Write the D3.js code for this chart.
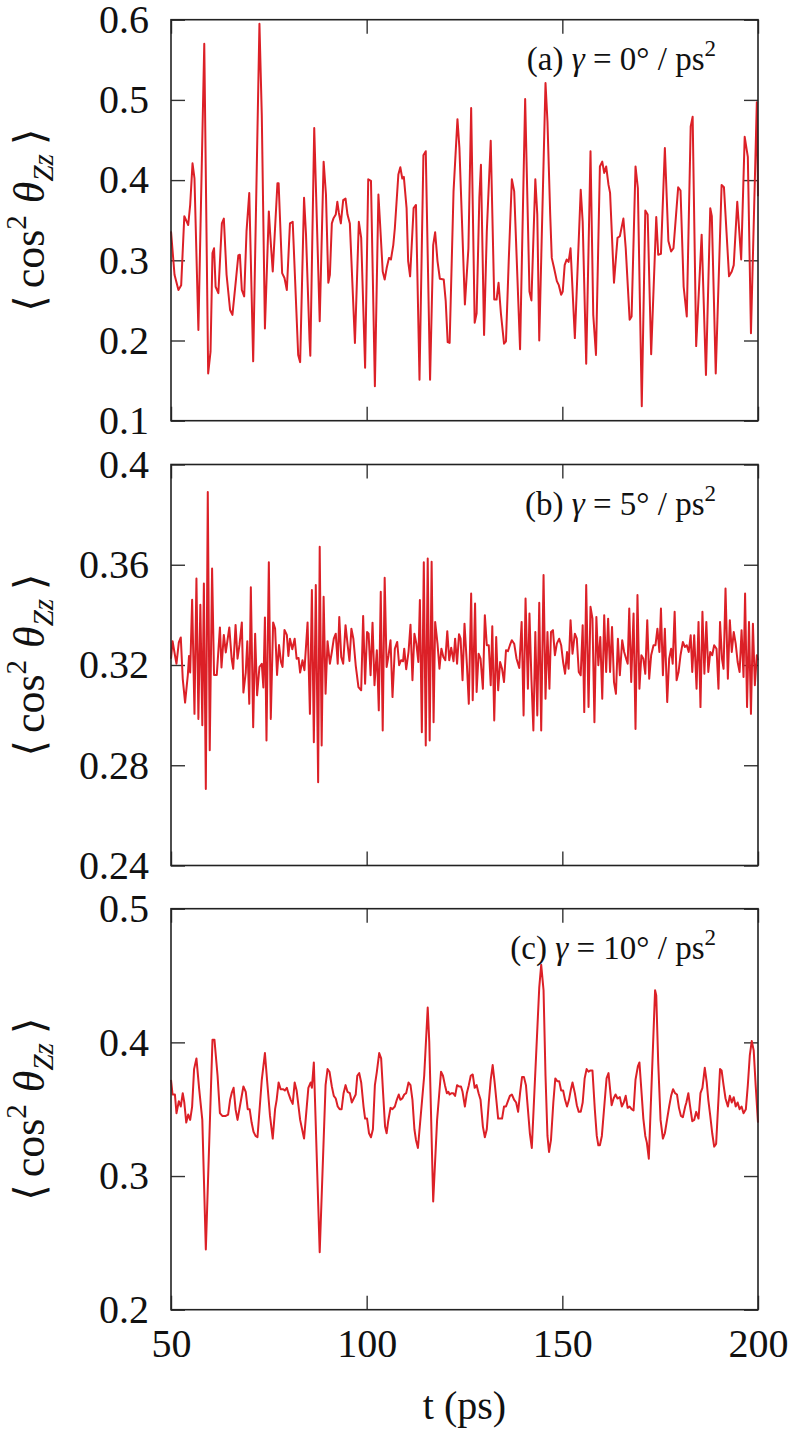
<!DOCTYPE html>
<html>
<head>
<meta charset="utf-8">
<script src="https://cdn.jsdelivr.net/npm/d3@7"></script>
<style>
  body { margin: 0; background: #fff; }
  svg { display: block; }
  text { font-family: "Liberation Serif", "Times New Roman", serif; fill: #111; }
</style>
</head>
<body>
<svg id="canvas"></svg>
<script>
// Data
let timeA = [50.0,50.9,51.9,52.6,53.4,54.4,54.9,55.5,56.0,57.0,58.5,59.5,60.1,60.6,61.0,61.4,62.1,63.0,63.5,64.2,65.1,65.7,66.6,67.2,67.6,68.1,68.7,69.3,70.0,71.0,72.6,73.2,74.0,75.0,75.3,76.0,77.2,77.5,78.4,79.0,79.6,80.4,81.1,82.5,83.0,84.0,84.5,85.4,85.6,86.6,88.0,89.0,89.6,90.2,90.6,91.1,91.5,92.1,92.5,92.9,93.4,94.0,94.6,95.1,95.7,97.0,98.0,98.6,99.6,100.4,101.1,102.1,103.0,103.4,104.1,104.6,105.1,105.7,106.2,106.8,107.2,108.1,108.6,109.1,109.5,110.2,110.6,111.1,112.0,112.6,113.5,114.5,115.1,116.2,117.0,117.5,118.1,118.7,119.7,120.2,120.7,121.2,122.2,123.2,123.7,125.1,126.0,126.7,127.6,128.1,128.8,129.2,130.0,130.7,131.7,132.6,133.2,133.7,134.3,135.1,135.6,136.3,137.1,137.7,139.2,140.5,141.6,142.1,143.1,143.6,144.1,145.7,146.2,146.9,147.3,147.9,148.6,149.1,149.7,150.1,150.6,151.1,151.6,152.1,153.2,154.7,155.2,156.1,157.2,157.9,158.6,159.6,160.2,160.7,161.2,161.8,162.2,163.2,164.1,164.7,165.6,166.2,167.2,167.7,168.7,169.3,170.3,171.2,171.8,172.7,174.0,174.5,175.2,176.2,177.1,177.8,178.4,179.6,180.2,181.0,181.8,182.8,183.3,184.2,185.6,186.7,187.8,188.2,189.2,190.7,191.3,192.6,193.3,193.8,194.7,195.7,196.6,197.4,198.2,199.7,200.0];
let cosA = [.336,.282,.263,.269,.355,.344,.369,.421,.402,.213,.570,.159,.186,.309,.315,.267,.259,.346,.352,.282,.238,.232,.276,.306,.307,.263,.255,.336,.384,.174,.595,.481,.215,.361,.336,.286,.396,.396,.284,.278,.263,.346,.348,.182,.173,.378,.332,.201,.181,.465,.224,.423,.382,.272,.282,.346,.352,.357,.373,.359,.346,.375,.377,.357,.346,.197,.348,.328,.166,.401,.399,.143,.382,.348,.286,.276,.290,.303,.301,.319,.340,.407,.416,.402,.404,.365,.299,.280,.365,.369,.151,.431,.436,.151,.319,.335,.299,.277,.276,.249,.198,.197,.386,.476,.440,.245,.315,.490,.222,.234,.379,.419,.207,.336,.449,.251,.251,.272,.234,.196,.199,.299,.401,.386,.189,.501,.261,.250,.401,.357,.200,.521,.473,.357,.303,.290,.274,.269,.257,.261,.294,.301,.298,.315,.203,.388,.348,.171,.436,.232,.182,.417,.423,.409,.417,.394,.384,.272,.328,.330,.352,.315,.226,.230,.417,.390,.118,.362,.357,.183,.354,.307,.308,.440,.324,.311,.315,.391,.387,.267,.230,.467,.479,.193,.332,.157,.365,.355,.159,.394,.391,.280,.286,.294,.373,.301,.454,.429,.209,.497,.380];

let timeB = [50.0,50.4,51.0,51.4,52.0,52.5,53.0,53.6,54.3,54.6,54.9,55.4,56.0,56.5,57.0,57.5,58.0,58.4,58.9,59.4,59.9,60.5,61.0,61.7,62.5,62.9,63.5,64.0,64.9,65.5,65.9,66.5,67.0,67.5,68.1,68.5,69.1,69.5,70.0,70.4,71.0,71.5,72.0,72.6,73.2,73.6,74.0,74.4,75.0,75.5,76.1,76.6,77.1,77.6,78.1,78.5,79.0,79.6,80.0,80.4,81.0,81.6,82.1,82.6,83.0,83.6,84.1,84.9,85.5,86.0,86.5,87.0,87.6,88.0,88.5,89.0,89.5,90.0,90.6,91.1,91.6,92.1,92.6,93.0,93.5,94.0,94.6,95.1,95.6,96.1,96.6,97.2,97.9,98.6,99.1,99.6,100.1,100.5,101.0,101.5,102.0,102.6,103.1,103.6,104.1,104.6,105.1,105.6,106.1,106.6,107.2,107.8,108.3,108.8,109.3,109.6,110.1,110.7,111.2,111.7,112.2,112.7,113.2,113.6,114.1,114.6,115.1,115.6,116.1,116.6,117.1,117.5,118.1,118.6,119.1,119.6,120.1,120.6,121.1,121.6,122.2,122.6,123.1,123.6,124.0,124.5,125.0,125.6,126.1,126.7,127.1,127.7,128.1,128.6,129.1,129.7,130.2,130.7,131.2,131.7,132.1,132.6,133.1,133.6,134.1,134.6,135.1,135.6,136.1,136.6,137.1,137.7,138.3,139.0,139.6,140.1,140.6,141.2,141.6,142.1,142.6,143.1,143.6,144.1,144.6,145.2,145.7,146.2,146.7,147.1,147.6,148.1,148.6,149.2,149.7,150.2,150.7,151.2,151.6,152.1,152.6,153.2,153.7,154.2,154.7,155.2,155.6,156.1,156.7,157.2,157.7,158.2,158.7,159.2,159.7,160.2,160.7,161.2,161.7,162.2,162.7,163.2,163.7,164.2,164.7,165.3,165.8,166.3,166.7,167.1,167.6,168.2,168.7,169.2,169.7,170.2,170.7,171.2,171.7,172.2,172.7,173.3,173.8,174.3,174.8,175.2,175.7,176.2,176.8,177.3,177.8,178.2,178.7,179.2,179.7,180.2,180.8,181.3,181.8,182.3,182.8,183.2,183.7,184.3,184.8,185.3,185.8,186.3,186.8,187.3,187.8,188.3,188.8,189.4,189.9,190.3,190.8,191.2,191.7,192.3,192.8,193.3,193.8,194.3,194.8,195.3,195.8,196.3,196.7,197.2,197.7,198.2,198.7,199.2,199.7,200.0];
let cosB = [.3225,.3295,.324,.3205,.329,.331,.3145,.305,.316,.3236,.317,.346,.3005,.3545,.2985,.344,.296,.3525,.2705,.389,.286,.3585,.316,.316,.335,.319,.332,.325,.335,.3225,.3185,.336,.3225,.328,.337,.309,.317,.3295,.3045,.351,.2952,.3325,.3079,.3192,.3205,.311,.339,.2899,.361,.2985,.337,.3345,.316,.328,.3212,.3192,.334,.332,.3236,.3305,.3263,.3305,.3225,.3228,.317,.3219,.3179,.337,.3005,.3499,.2892,.3519,.2732,.3672,.2879,.3472,.3085,.3295,.3205,.3252,.3305,.3325,.3205,.3392,.3232,.3205,.3359,.3285,.3216,.3345,.3305,.3199,.3112,.3099,.3396,.3125,.3332,.3325,.3159,.3369,.3119,.3259,.3019,.3492,.2939,.3548,.3192,.3239,.3299,.3072,.3265,.3292,.3199,.3219,.3215,.3265,.3183,.3252,.3361,.3139,.3325,.3285,.3212,.3459,.2932,.361,.2879,.3625,.2899,.3612,.2972,.3372,.3285,.3185,.3265,.3232,.3219,.3335,.3219,.3269,.3215,.3305,.3205,.3323,.3305,.3139,.3365,.3205,.3045,.3485,.3059,.3445,.3092,.3245,.3225,.3105,.3399,.3279,.3279,.3119,.3355,.2979,.3312,.3099,.3212,.3185,.3132,.3259,.3255,.3279,.3299,.3285,.3225,.3188,.3372,.2999,.3465,.3105,.3405,.3145,.2939,.3332,.2999,.3448,.2939,.3559,.3065,.3332,.3105,.3332,.3339,.3239,.3285,.3305,.3279,.3212,.3165,.3252,.3185,.3379,.3245,.3325,.3305,.3172,.3159,.3359,.3012,.3519,.3032,.3432,.3385,.2972,.3392,.3199,.3312,.3065,.3399,.3172,.3385,.3172,.3352,.3132,.3085,.3305,.3159,.3299,.3252,.3225,.3205,.3425,.3132,.3405,.2945,.3479,.3105,.3239,.3225,.3165,.3379,.3145,.3239,.3279,.3279,.3345,.3252,.3425,.3159,.3345,.3052,.3225,.3265,.3205,.3412,.3139,.3172,.3239,.3292,.3272,.3279,.3252,.3319,.3172,.3319,.3105,.3372,.3032,.3412,.3165,.3372,.3172,.3252,.3239,.3279,.3265,.3105,.3372,.3225,.3185,.3505,.3145,.3379,.3252,.3332,.3285,.3212,.3172,.3339,.3152,.3485,.3032,.3372,.3005,.3365,.3119,.3239,.3219];

let timeC = [50.0,50.4,51.0,51.4,52.0,52.5,53.0,53.4,53.9,54.4,54.9,55.4,55.9,56.5,57.2,58.0,58.9,60.6,61.1,61.9,62.5,63.1,64.0,64.6,65.1,65.5,66.0,66.5,67.0,67.6,68.5,69.1,69.6,70.1,70.6,71.1,71.6,72.1,73.2,74.0,74.6,75.3,76.0,76.6,77.0,77.5,78.0,78.7,79.1,79.6,80.0,80.6,81.1,81.6,82.1,83.0,84.0,85.1,85.7,86.0,86.5,88.0,89.5,90.0,90.5,91.1,91.6,92.1,92.6,93.1,93.6,94.1,94.6,95.1,95.7,96.2,96.7,97.2,97.6,98.1,98.6,99.2,99.6,100.1,100.6,101.1,101.6,102.1,102.6,103.2,103.7,104.2,104.7,105.1,105.5,106.1,106.6,107.2,107.7,108.2,108.6,109.1,109.6,110.1,110.7,111.2,111.7,112.2,112.6,113.1,114.7,115.6,116.0,117.0,118.0,119.0,119.5,120.0,120.5,120.9,121.2,121.7,122.1,122.6,123.1,123.6,124.1,124.5,125.1,125.6,126.1,126.6,127.1,127.6,128.1,128.6,129.1,129.7,130.2,130.7,131.2,131.7,132.2,132.7,133.2,133.6,134.1,134.6,135.1,135.6,136.1,136.6,137.1,137.7,138.2,138.7,139.2,139.7,140.2,140.7,141.2,141.7,142.2,144.1,144.6,145.2,145.7,146.2,146.6,147.1,147.7,148.2,148.7,149.2,149.7,150.2,150.7,151.2,151.7,152.2,152.6,153.2,153.7,154.2,154.7,155.2,155.7,156.2,156.7,157.2,157.7,158.3,158.8,159.2,159.6,160.1,161.3,161.8,162.2,162.6,163.1,163.6,164.1,164.7,165.2,165.7,166.2,166.7,167.2,167.7,168.2,168.7,169.3,169.7,170.3,170.7,171.2,171.6,172.1,173.7,174.0,174.5,175.1,175.7,176.2,176.8,177.3,177.8,178.3,178.8,179.3,179.8,180.3,180.8,181.4,181.7,182.2,182.6,183.2,183.7,184.2,184.8,185.3,185.8,186.4,186.9,187.3,187.8,188.3,188.8,189.3,190.3,190.7,191.2,191.7,192.3,192.8,193.3,193.8,194.3,194.8,195.3,195.8,196.3,196.9,197.4,197.9,198.4,198.9,199.4,200.0];
let cosC = [.372,.361,.361,.347,.356,.352,.362,.355,.340,.346,.342,.352,.380,.388,.365,.342,.245,.402,.402,.375,.347,.345,.345,.346,.357,.362,.366,.350,.342,.352,.367,.363,.350,.350,.340,.333,.330,.329,.372,.392,.370,.345,.328,.350,.357,.370,.365,.365,.364,.366,.362,.357,.354,.370,.364,.342,.328,.366,.370,.366,.385,.243,.368,.380,.378,.367,.360,.358,.352,.350,.350,.362,.368,.363,.362,.355,.358,.361,.375,.377,.370,.352,.343,.343,.332,.329,.335,.368,.378,.392,.388,.362,.337,.332,.341,.351,.350,.352,.357,.361,.357,.358,.361,.362,.370,.368,.357,.335,.327,.321,.375,.426,.400,.281,.342,.378,.375,.368,.362,.363,.361,.362,.362,.360,.368,.367,.367,.363,.352,.362,.368,.375,.376,.366,.368,.362,.357,.337,.329,.335,.355,.372,.383,.370,.355,.343,.343,.343,.352,.352,.356,.360,.361,.357,.355,.348,.362,.374,.374,.368,.350,.332,.321,.441,.458,.439,.375,.330,.318,.327,.355,.373,.371,.371,.364,.364,.357,.352,.357,.365,.370,.362,.353,.348,.348,.355,.373,.380,.378,.379,.379,.350,.330,.323,.323,.330,.373,.377,.365,.353,.358,.361,.358,.359,.352,.355,.360,.351,.352,.350,.349,.372,.382,.385,.360,.343,.330,.325,.313,.439,.435,.385,.342,.328,.332,.343,.352,.360,.365,.362,.361,.351,.345,.344,.352,.355,.362,.353,.341,.342,.348,.343,.362,.366,.381,.370,.357,.345,.332,.322,.324,.380,.379,.368,.358,.352,.360,.355,.359,.352,.355,.350,.352,.347,.350,.368,.390,.401,.394,.368,.340];

let xTicks = [50, 100, 150, 200];
let yTicksA = [0.1, 0.2, 0.3, 0.4, 0.5, 0.6];
let yTicksB = [0.24, 0.28, 0.32, 0.36, 0.4];
let yTicksC = [0.2, 0.3, 0.4, 0.5];
let tags = ["(a)", "(b)", "(c)"];
let gammas = ["0", "5", "10"];

let width = 789;
let height = 1432;
let left = 171, right = 758;
let panelTop = [19.7, 464.5, 908.7];
let panelH = 401;

let canvas = d3.select("#canvas").attr("width", width).attr("height", height);

let x = d3.scaleLinear().domain([50, 200]).range([left, right]);

let panels = [
  { t: timeA, v: cosA, dom: [0.1, 0.6], ticks: yTicksA, fmt: (d) => d3.format(".1f")(d) },
  { t: timeB, v: cosB, dom: [0.24, 0.4], ticks: yTicksB, fmt: (d) => (d === 0.4 ? "0.4" : d3.format(".2f")(d)) },
  { t: timeC, v: cosC, dom: [0.2, 0.5], ticks: yTicksC, fmt: (d) => d3.format(".1f")(d) }
];

let styleAxis = (g) => {
  g.select(".domain").remove();
  g.selectAll(".tick line").attr("stroke", "#333").attr("stroke-width", 1.4);
  g.selectAll("text").attr("font-size", 40).attr("font-family", "Liberation Serif").attr("fill", "#111");
};

panels.forEach((p, i) => {
  let top = panelTop[i];
  let bottom = top + panelH;
  let y = d3.scaleLinear().domain(p.dom).range([bottom, top]);
  let g = canvas.append("g");

  // axes with inward ticks on all four sides
  g.append("g").attr("transform", `translate(${left},0)`)
    .call(d3.axisLeft(y).tickValues(p.ticks).tickFormat(p.fmt).tickSize(-14).tickPadding(22))
    .call(styleAxis);
  g.append("g").attr("transform", `translate(${right},0)`)
    .call(d3.axisRight(y).tickValues(p.ticks).tickFormat("").tickSize(-14))
    .call(styleAxis);
  g.append("g").attr("transform", `translate(0,${top})`)
    .call(d3.axisTop(x).tickValues(xTicks).tickFormat("").tickSize(-14))
    .call(styleAxis);
  g.append("g").attr("transform", `translate(0,${bottom})`)
    .call(d3.axisBottom(x).tickValues(xTicks).tickFormat(i === 2 ? d3.format("d") : "").tickSize(-14).tickPadding(19))
    .call(styleAxis);

  // series line
  let pts = p.t.map((t, k) => [t, p.v[k]]);
  g.append("path")
    .datum(pts)
    .attr("fill", "none")
    .attr("stroke", "#dc2027")
    .attr("stroke-width", 2)
    .attr("stroke-linejoin", "round")
    .attr("d", d3.line().x((d) => x(d[0])).y((d) => y(d[1])));

  // frame
  g.append("rect")
    .attr("x", left).attr("y", top)
    .attr("width", right - left).attr("height", panelH)
    .attr("fill", "none").attr("stroke", "#222").attr("stroke-width", 1.6);

  // panel annotation
  let ann = g.append("text")
    .attr("x", 716).attr("y", top + 50)
    .attr("text-anchor", "end")
    .attr("font-size", 33);
  ann.append("tspan").text(tags[i] + " ");
  ann.append("tspan").attr("font-style", "italic").text("γ");
  ann.append("tspan").text(" = " + gammas[i] + "° / ps");
  ann.append("tspan").attr("dy", -14).attr("font-size", 23).text("2");

  // y label
  let yl = g.append("text")
    .attr("transform", `translate(44,${(top + bottom) / 2}) rotate(-90)`)
    .attr("text-anchor", "middle")
    .attr("font-size", 44);
  yl.append("tspan").attr("font-family", "DejaVu Serif").attr("font-size", 42).text("⟨");
  yl.append("tspan").attr("dx", 7).text("cos");
  yl.append("tspan").attr("dy", -18).attr("font-size", 29).text("2");
  yl.append("tspan").attr("dy", 18).attr("dx", 12).attr("font-style", "italic").text("θ");
  yl.append("tspan").attr("dy", 9).attr("font-size", 29).attr("font-style", "italic").text("Zz");
  yl.append("tspan").attr("dy", -9).attr("dx", 9).attr("font-family", "DejaVu Serif").attr("font-size", 42).text("⟩");
});

// x axis title
canvas.append("text")
  .attr("x", (left + right) / 2)
  .attr("y", 1419)
  .attr("text-anchor", "middle")
  .attr("font-size", 40)
  .text("t (ps)");
</script>
</body>
</html>
